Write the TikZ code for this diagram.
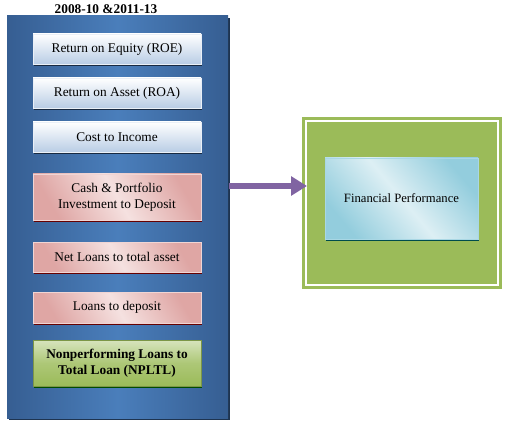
\documentclass[tikz,border=0pt]{standalone}
\usepackage{fontspec}
\setmainfont{Liberation Serif}
\usetikzlibrary{arrows.meta,shadows}
\definecolor{panelD}{HTML}{365E92}
\definecolor{panelL}{HTML}{4A7EBB}
\definecolor{bluebox}{HTML}{DCE6F2}
\definecolor{blueboxD}{HTML}{B9CDE5}
\definecolor{pinkL}{HTML}{F5E1E0}
\definecolor{pinkD}{HTML}{D99694}
\definecolor{greenL}{HTML}{D7E4BD}
\definecolor{greenD}{HTML}{9BBB59}
\definecolor{fpL}{HTML}{DDEFF4}
\definecolor{fpD}{HTML}{93CDDD}
\definecolor{arrowc}{HTML}{8064A2}
\tikzset{
  metric/.style={minimum width=126pt, align=center, font=\fontsize{10}{12}\selectfont, inner sep=0pt},
  bluem/.style={metric, top color=white, bottom color=blueboxD, middle color=bluebox, draw=white!70!blueboxD,
     drop shadow={shadow xshift=1pt, shadow yshift=-1.5pt, fill=panelD!45!black, opacity=1}},
  pinkm/.style={metric, top color=pinkD!85, bottom color=pinkD!85, middle color=pinkL, shading angle=-60, draw=white!60!pinkD,
     drop shadow={shadow xshift=1pt, shadow yshift=-1.5pt, fill=red!40!black, opacity=1}},
  greenm/.style={metric, top color=greenL, bottom color=greenD, middle color=greenD!70!greenL, draw=greenD!80!black,
     font=\fontsize{10}{12}\selectfont\bfseries,
     drop shadow={shadow xshift=1pt, shadow yshift=-1.5pt, fill=green!30!black, opacity=1}},
}
\begin{document}
\begin{tikzpicture}[x=0.75pt,y=-0.75pt]
\useasboundingbox (0,0) rectangle (507,424);
% blue panel
\fill[panelD!55!black] (9,18) rectangle (230,420);
\shade[left color=panelD, right color=panelD, middle color=panelL] (7,16) rectangle (228,418);
\node[font=\fontsize{10}{12}\selectfont\bfseries] (title) at (106,9) {2008-10 \&2011-13};
% metric boxes
\node[bluem, minimum height=22.5pt] (roe) at (117,49) {Return on Equity (ROE)};
\node[bluem, minimum height=22.5pt] (roa) at (117,93) {Return on Asset (ROA)};
\node[bluem, minimum height=22.5pt] (cti) at (117,137) {Cost to Income};
\node[pinkm, minimum height=34.5pt] (cash) at (117,197) {Cash \& Portfolio\\Investment to Deposit};
\node[pinkm, minimum height=22.5pt] (net) at (117,257) {Net Loans to total asset};
\node[pinkm, minimum height=23pt] (ltd) at (117,307.5) {Loans to deposit};
\node[greenm, minimum height=34.5pt] (npl) at (117,363) {Nonperforming Loans to\\Total Loan (NPLTL)};
% green frame
\fill[greenD] (302,117) rectangle (502,289);
\draw[white, line width=1.2pt] (306,121) rectangle (498,285);
\node[minimum width=114.75pt, minimum height=60.75pt, inner sep=0pt,
  top color=fpD, bottom color=fpD, middle color=fpL, shading angle=-50, draw=fpD!80!white,
  drop shadow={shadow xshift=1pt, shadow yshift=-1.5pt, fill=black!40!teal, opacity=1},
  font=\fontsize{9.5}{11}\selectfont] (fp) at (401.5,198.5) {Financial Performance};
\coordinate (panelR) at (229,186);
\coordinate (greenL) at (307,186);
\draw[arrowc, line width=4pt, -{Triangle[length=12pt,width=14pt]}] (panelR) -- (greenL);
\end{tikzpicture}
\end{document}
